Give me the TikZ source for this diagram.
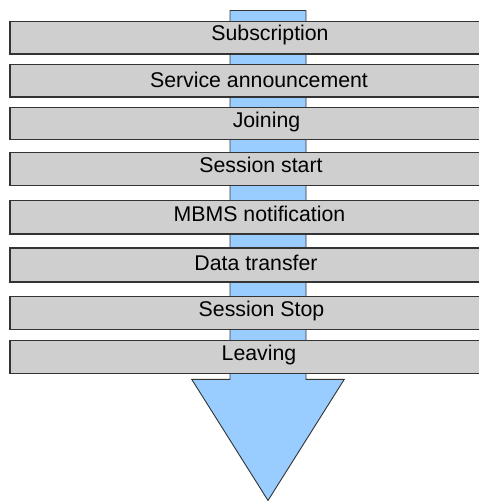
\documentclass[tikz,border=0pt]{standalone}
\usepackage{fontspec}
\setmainfont{Liberation Sans}
\definecolor{boxgray}{HTML}{CFCFCF}
\definecolor{arrowblue}{HTML}{99CCFF}
\definecolor{edgegray}{HTML}{333333}
\begin{document}
\begin{tikzpicture}[x=1pt,y=-1pt,
  stagebox/.style={draw=edgegray,fill=boxgray,line width=1.1pt},
  flowarrow/.style={draw=edgegray,fill=arrowblue,line width=0.9pt},
  stagelabel/.style={anchor=base,inner sep=0pt,font=\fontsize{21.3}{25}\selectfont}]
\useasboundingbox (0,0) rectangle (479,501);
\clip (0,0) rectangle (479,501);
% arrow
\draw[flowarrow] (230,10.5) -- (306,10.5) -- (306,379.3) -- (344.3,379.3)
  -- (268,500.5) -- (191.7,379.3) -- (230,379.3) -- cycle;
% boxes
\draw[stagebox] (10,21.5) rectangle (520,54);
\draw[stagebox] (10,64.5) rectangle (520,97);
\draw[stagebox] (10,107.3) rectangle (520,139.5);
\draw[stagebox] (10,152.3) rectangle (520,185.5);
\draw[stagebox] (10,200.7) rectangle (520,234);
\draw[stagebox] (10,248) rectangle (520,282);
\draw[stagebox] (10,296.7) rectangle (520,329.3);
\draw[stagebox] (10,340.7) rectangle (520,373.5);
% labels
\node[stagelabel] (t1) at (270,40) {Subscription};
\node[stagelabel] (t2) at (259,87.3) {Service announcement};
\node[stagelabel] (t3) at (266.5,127.3) {Joining};
\node[stagelabel] (t4) at (261,172.3) {Session start};
\node[stagelabel] (t5) at (259.5,221.7) {MBMS notification};
\node[stagelabel] (t6) at (256,270.7) {Data transfer};
\node[stagelabel] (t7) at (261.5,316.7) {Session Stop};
\node[stagelabel] (t8) at (259,360) {Leaving};
\end{tikzpicture}
\end{document}
